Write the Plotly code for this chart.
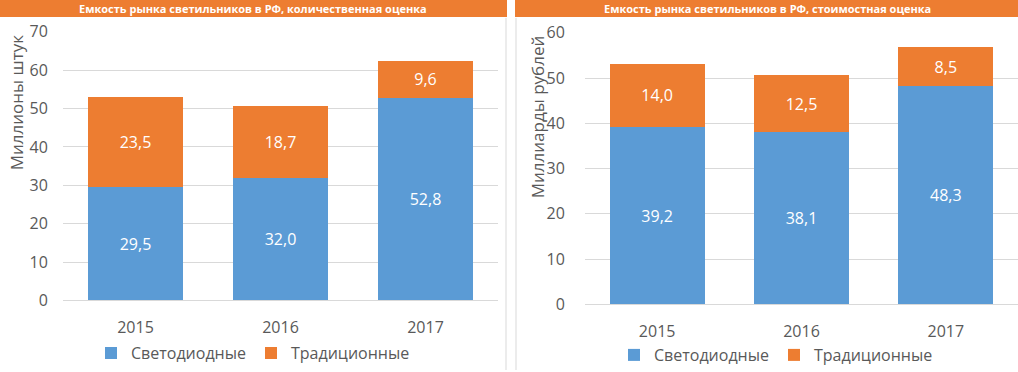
import plotly.graph_objects as go

years = ["2015", "2016", "2017"]
led_qty = [29.5, 32.0, 52.8]
trad_qty = [23.5, 18.7, 9.6]
led_val = [39.2, 38.1, 48.3]
trad_val = [14.0, 12.5, 8.5]
series_names = ["Светодиодные", "Традиционные"]
titles = ["Емкость рынка светильников в РФ, количественная оценка",
          "Емкость рынка светильников в РФ, стоимостная оценка"]
ytitles = ["Миллионы штук", "Миллиарды рублей"]

BLUE = "#5B9BD5"
ORANGE = "#ED7D31"
GRID = "#D9D9D9"
TXT = "#595959"
FONT = "Open Sans"
W, H = 1018, 372

def fmt(v):
    return f"{v:.1f}".replace(".", ",")

def px(x):
    return x / W

def py(y):
    return 1 - y / H

fig = go.Figure()
for i, (led, trad) in enumerate([(led_qty, trad_qty), (led_val, trad_val)]):
    xa = "x" if i == 0 else "x2"
    ya = "y" if i == 0 else "y2"
    lg = "legend" if i == 0 else "legend2"
    for name, vals, col in [(series_names[0], led, BLUE), (series_names[1], trad, ORANGE)]:
        fig.add_trace(go.Bar(
            x=years, y=vals, name=name, marker=dict(color=col, line=dict(width=0)),
            text=[fmt(v) for v in vals], textposition="inside", insidetextanchor="middle",
            textfont=dict(color="white", size=16, family=FONT),
            xaxis=xa, yaxis=ya, legend=lg, width=0.66,
        ))

TF = dict(size=16, color=TXT, family=FONT)
fig.update_layout(
    width=W, height=H, margin=dict(l=0, r=0, t=0, b=0),
    barmode="stack", plot_bgcolor="white", paper_bgcolor="white",
    font=dict(family=FONT, color=TXT),
    xaxis=dict(domain=[px(63), px(498)], anchor="y", showgrid=False, showline=False,
               ticks="outside", ticklen=12, tickcolor="rgba(0,0,0,0)", tickfont=TF,
               automargin=False),
    yaxis=dict(domain=[py(302), py(32)], range=[0, 70], dtick=10, anchor="x",
               gridcolor=GRID, zerolinecolor=GRID, zerolinewidth=1, showline=False,
               ticks="outside", ticklen=11, tickcolor="rgba(0,0,0,0)", tickfont=TF,
               automargin=False),
    xaxis2=dict(domain=[px(585), 1.0], anchor="y2", showgrid=False, showline=False,
                ticks="outside", ticklen=12, tickcolor="rgba(0,0,0,0)", tickfont=TF,
                automargin=False),
    yaxis2=dict(domain=[py(306), py(33)], range=[0, 60], dtick=10, anchor="x2",
                gridcolor=GRID, zerolinecolor=GRID, zerolinewidth=1, showline=False,
                ticks="outside", ticklen=16, tickcolor="rgba(0,0,0,0)", tickfont=TF,
                automargin=False),
    legend=dict(orientation="h", x=px(253), xanchor="center", y=py(355), yanchor="middle",
                font=TF, itemsizing="constant", traceorder="normal", itemwidth=30),
    legend2=dict(orientation="h", x=px(776), xanchor="center", y=py(357), yanchor="middle",
                 font=TF, itemsizing="constant", traceorder="normal", itemwidth=30),
    showlegend=True,
)

shapes = [
    dict(type="rect", xref="paper", yref="paper", x0=0, x1=px(507), y0=py(17), y1=1,
         fillcolor=ORANGE, line=dict(width=0), layer="below"),
    dict(type="rect", xref="paper", yref="paper", x0=px(515), x1=1, y0=py(17), y1=1,
         fillcolor=ORANGE, line=dict(width=0), layer="below"),
    dict(type="line", xref="paper", yref="paper", x0=px(506), x1=px(506), y0=0, y1=py(18),
         line=dict(color=GRID, width=1)),
    dict(type="line", xref="paper", yref="paper", x0=px(516), x1=px(516), y0=0, y1=py(18),
         line=dict(color=GRID, width=1)),
]
fig.update_layout(shapes=shapes)

fig.add_annotation(text="<b>" + titles[0] + "</b>", x=px(253), y=py(9), xref="paper", yref="paper",
                   showarrow=False, font=dict(size=11, color="white", family=FONT),
                   xanchor="center", yanchor="middle")
fig.add_annotation(text="<b>" + titles[1] + "</b>", x=px(767), y=py(9), xref="paper", yref="paper",
                   showarrow=False, font=dict(size=11, color="white", family=FONT),
                   xanchor="center", yanchor="middle")
fig.add_annotation(text=ytitles[0], x=px(16), y=py(34), xref="paper", yref="paper",
                   showarrow=False, textangle=-90, font=dict(size=17, color=TXT, family=FONT),
                   xanchor="center", yanchor="top")
fig.add_annotation(text=ytitles[1], x=px(537), y=py(34), xref="paper", yref="paper",
                   showarrow=False, textangle=-90, font=dict(size=17, color=TXT, family=FONT),
                   xanchor="center", yanchor="top")

fig.write_html("out.html", config={"displayModeBar": False},
               post_script="document.body.style.margin='0';document.body.style.overflow='hidden';")
